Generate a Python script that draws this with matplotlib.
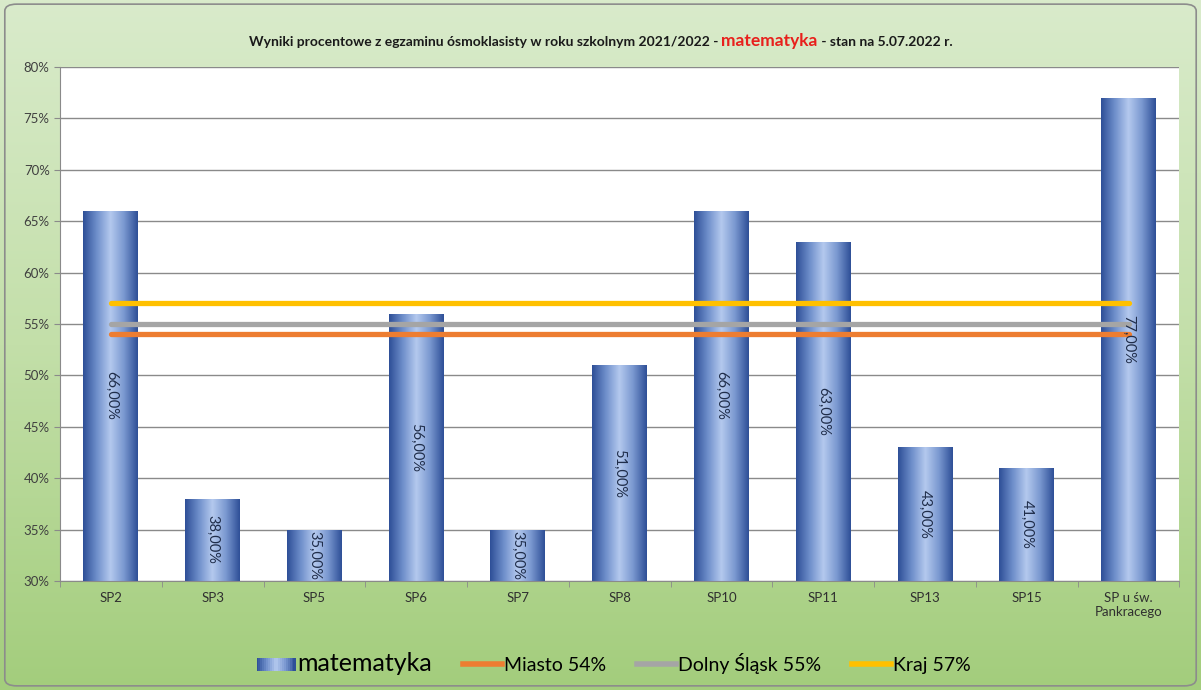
import numpy as np
import matplotlib
matplotlib.use('Agg')
from matplotlib import pyplot as plt
from matplotlib.colors import LinearSegmentedColormap
from matplotlib.patches import Rectangle, FancyBboxPatch
from matplotlib.legend_handler import HandlerBase
from matplotlib.lines import Line2D

#%% DATA
schools = ['SP2', 'SP3', 'SP5', 'SP6', 'SP7', 'SP8', 'SP10', 'SP11',
           'SP13', 'SP15', 'SP u św.\nPankracego']
scores = [66, 38, 35, 56, 35, 51, 66, 63, 43, 41, 77]
city = 54
region = 55
country = 57
ref_labels = ['Miasto 54%', 'Dolny Śląsk 55%', 'Kraj 57%']
ref_values = [city, region, country]
ref_colors = ['#ED7D31', '#A5A5A5', '#FFC000']

plt.rcParams['font.family'] = ['Lato', 'DejaVu Sans']

bar_cmap = LinearSegmentedColormap.from_list(
    'bar', ['#2f5098', '#6f8fcb', '#b4c9ee', '#7a98d0', '#2f5098'])

fig = plt.figure(figsize=(12.01, 6.9), dpi=100)

#%% background gradient
bg = fig.add_axes([0, 0, 1, 1], zorder=-10)
grad = np.linspace(0, 1, 256).reshape(-1, 1)
bg_cmap = LinearSegmentedColormap.from_list('bg', ['#a3cd7c', '#c3dfa9', '#d9ebcb'])
bg.imshow(grad, aspect='auto', cmap=bg_cmap, extent=[0, 1, 0, 1], origin='lower')
bg.add_patch(FancyBboxPatch((0.004, 0.006), 0.992, 0.988,
                            boxstyle='round,pad=0,rounding_size=0.01',
                            fill=False, ec='#8c8c8c', lw=1.2))
bg.set_xlim(0, 1)
bg.set_ylim(0, 1)
bg.axis('off')

#%% main axes
ax = fig.add_axes([0.050, 0.158, 0.932, 0.745])
ax.set_facecolor('white')
x = np.arange(len(schools))
bars = ax.bar(x, [s - 30 for s in scores], bottom=30, width=0.54,
              color='#5b7cc0', zorder=2)
for b in bars:
    x0, y0 = b.get_x(), b.get_y()
    img = ax.imshow(np.linspace(0, 1, 100).reshape(1, -1), cmap=bar_cmap,
                    aspect='auto', extent=[x0, x0 + b.get_width(), y0, y0 + b.get_height()],
                    zorder=2.5)
    img.set_clip_path(b)

for val, col in zip(ref_values, ref_colors):
    ax.plot(x, [val] * len(x), color=col, lw=3.8, zorder=3, solid_capstyle='round')

for xi, s in zip(x, scores):
    ax.text(xi, (s + 30) / 2, f'{s},00%', rotation=270, ha='center', va='center',
            fontsize=10.5, color='#1f2d4a', zorder=4)

ax.set_xlim(-0.5, len(x) - 0.5)
ax.set_ylim(30, 80)
ax.set_yticks(np.arange(30, 81, 5))
ax.set_yticklabels([f'{v}%' for v in range(30, 81, 5)], fontsize=9.5, color='#404040')
ax.yaxis.grid(True, color='#8a8a8a', lw=1.0)
ax.set_axisbelow(True)
ax.set_xticks(x)
ax.set_xticklabels(schools, fontsize=9.5, color='#303030')
ax.set_xticks(np.arange(-0.5, len(x), 1), minor=True)
ax.tick_params(axis='x', which='major', length=0, pad=8)
ax.tick_params(axis='x', which='minor', length=4, color='#8a8a8a')
ax.tick_params(axis='y', length=4, color='#8a8a8a')
for side in ['top', 'right']:
    ax.spines[side].set_visible(False)
for side in ['left', 'bottom']:
    ax.spines[side].set_color('#8a8a8a')

#%% title in pieces
parts = [('Wyniki procentowe z egzaminu ósmoklasisty w roku szkolnym 2021/2022 - ', '#1a1a1a', 10),
         ('matematyka', '#e8201c', 12.5),
         (' - stan na 5.07.2022 r.', '#1a1a1a', 10)]
renderer = fig.canvas.get_renderer()
texts = []
for s, c, fs in parts:
    texts.append(fig.text(0, 0.934, s, color=c, fontsize=fs, fontweight='bold',
                          va='baseline', ha='left'))
widths = [t.get_window_extent(renderer).width for t in texts]
start = (fig.bbox.width - sum(widths)) / 2
for t, w in zip(texts, widths):
    t.set_x(start / fig.bbox.width)
    start += w

#%% legend
class GradientHandler(HandlerBase):
    def create_artists(self, legend, orig, xd, yd, width, height, fontsize, trans):
        arts = []
        n = 20
        for i in range(n):
            r = Rectangle((xd + width * i / n, yd), width / n + 0.3, height,
                          fc=bar_cmap(i / (n - 1)), ec='none', transform=trans)
            arts.append(r)
        return arts

handles = [Rectangle((0, 0), 1, 1)]
handles += [Line2D([], [], color=c, lw=4) for c in ref_colors]
labels = ['matematyka'] + ref_labels
leg = fig.legend(handles, labels, loc='center', bbox_to_anchor=(0.511, 0.038), ncol=4,
                 frameon=False, fontsize=14, handlelength=2.0, handletextpad=0.1,
                 columnspacing=1.6, handler_map={Rectangle: GradientHandler()})
leg.get_texts()[0].set_fontsize(18)

fig.savefig('out.png', dpi=100)
